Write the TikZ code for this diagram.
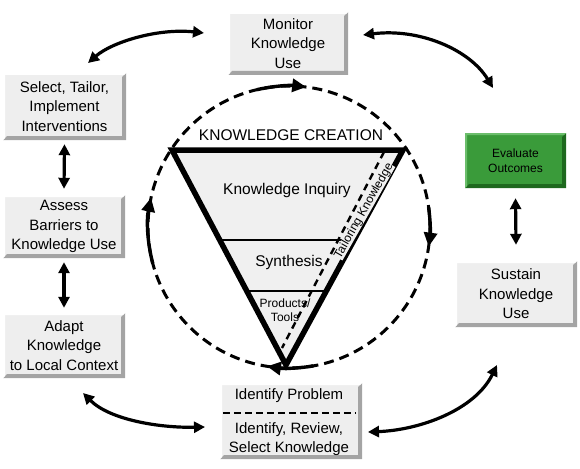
\documentclass[tikz,border=0pt]{standalone}
\usepackage{fontspec}
\setmainfont{Liberation Sans}
\usetikzlibrary{arrows.meta,calc}
\definecolor{boxfill}{HTML}{EEEEEE}
\definecolor{bevdark}{HTML}{A4A4A4}
\definecolor{grfill}{HTML}{3A9B3A}
\definecolor{grdark}{HTML}{1E681E}
\definecolor{grlight}{HTML}{6CBE6C}
\definecolor{trifill}{HTML}{F0F0F0}
\tikzset{
  bevel/.style 2 args={path picture={
    \fill[#1] (path picture bounding box.north east) -- (path picture bounding box.south east)
      -- (path picture bounding box.south west) -- ([shift={(4pt,4pt)}]path picture bounding box.south west)
      -- ([shift={(-4pt,4pt)}]path picture bounding box.south east)
      -- ([shift={(-4pt,-4pt)}]path picture bounding box.north east) -- cycle;
    \fill[#2] (path picture bounding box.south west) -- (path picture bounding box.north west)
      -- (path picture bounding box.north east) -- ([shift={(-2pt,-2pt)}]path picture bounding box.north east)
      -- ([shift={(2pt,-2pt)}]path picture bounding box.north west)
      -- ([shift={(2pt,2pt)}]path picture bounding box.south west) -- cycle;}},
  boxtext/.style={inner sep=0pt, align=center, font=\fontsize{15}{19.5}\selectfont},
  greybox/.style={boxtext, fill=boxfill, bevel={bevdark}{white}},
  greenbox/.style={fill=grfill, bevel={grdark}{grlight}, inner sep=0pt, align=center,
    font=\fontsize{12}{15}\selectfont},
  conn/.style={line width=3.2pt, arrows={Triangle[length=11pt,width=11pt]-Triangle[length=11pt,width=11pt]}},
  cyc/.style={line width=3.4pt, -{Triangle[length=14pt,width=13pt]}},
  circdash/.style={line width=3pt, dash pattern=on 10pt off 6pt},
  taildash/.style={line width=2.4pt, dash pattern=on 7pt off 5pt},
  trilabel/.style={font=\fontsize{15.5}{18}\selectfont, align=center},
  smalllabel/.style={font=\fontsize{12}{14}\selectfont, align=center}
}
\begin{document}
\begin{tikzpicture}[x=1pt,y=-1pt]
\useasboundingbox (0,0) rectangle (580,468);

% boxes
\node[greybox, minimum width=120pt, minimum height=63pt] (monitor) at (288,43.5) {Monitor\\Knowledge\\Use};
\node[greybox, minimum width=123pt, minimum height=67pt] (select) at (64.5,106.5) {Select, Tailor,\\Implement\\Interventions};
\node[greybox, minimum width=122pt, minimum height=63pt] (assess) at (64,226.5) {Assess\\Barriers to\\Knowledge Use};
\node[greybox, minimum width=122pt, minimum height=65pt] (adapt) at (64,345.5) {Adapt\\Knowledge\\to Local Context};
\node[greybox, minimum width=142pt, minimum height=76pt] (ident) at (291,421) {};
\node[boxtext] (identp) at (289,396) {Identify Problem};
\node[boxtext] (identr) at (289,439) {Identify, Review,\\Select Knowledge};
\draw[line width=1.6pt, dash pattern=on 7pt off 4pt] ($(ident.west)+(3,-8)$) -- ($(ident.east)+(-7,-8)$);
\node[greenbox, minimum width=101pt, minimum height=55pt] (evaluate) at (515.5,160.5) {Evaluate\\Outcomes};
\node[greybox, minimum width=122pt, minimum height=66pt] (sustain) at (516,294) {Sustain\\Knowledge\\Use};

% triangle
\coordinate (tl) at (172,150);
\coordinate (tr) at (403,150);
\coordinate (bt) at (286,365);
\fill[trifill] (tl) -- (tr) -- (bt) -- cycle;
\draw[line width=1.5pt] ($(tl)!0.4186!(bt)$) -- ($(tr)!0.4186!(bt)$);
\draw[line width=1.5pt] ($(tl)!0.6558!(bt)$) -- ($(tr)!0.6558!(bt)$);

% dashed cycle
\coordinate (c) at (289,227);
\draw[circdash] (c) circle[radius=141];
\coordinate (ta) at (384,152);
\coordinate (tb) at (282,348);
\draw[taildash] (ta) -- (tb);

\draw[line width=5.5pt, line join=miter] (tl) -- (tr) -- (bt) -- cycle;

\node[trilabel] (kc) at (291,135) {KNOWLEDGE CREATION};
\node[trilabel] (ki) at (287,190) {Knowledge Inquiry};
\node[trilabel] (syn) at (289,262) {Synthesis};
\node[smalllabel] (prod) at (285,310) {Products/\\Tools};
\node[smalllabel, fill=trifill, inner sep=0pt, rotate=60.5] (tail) at (364,211) {Tailoring Knowledge};

% cycle arrows
\draw[cyc] (c) ++(257:141) arc[start angle=257, end angle=277, radius=141];
\draw[cyc] (c) ++(-8:141) arc[start angle=-8, end angle=8, radius=141];
\draw[cyc] (c) ++(80:141) arc[start angle=80, end angle=99, radius=141];
\draw[cyc] (c) ++(165:141) arc[start angle=165, end angle=192, radius=141];

% connectors between boxes
\coordinate (a1s) at (88,63);   \coordinate (a1e) at (204,33);
\coordinate (a2s) at (363,35);  \coordinate (a2e) at (493,88);
\coordinate (a6s) at (83,393);  \coordinate (a6e) at (205,427);
\coordinate (a7s) at (368,432); \coordinate (a7e) at (497,365);
\draw[conn] (a1s) .. controls (112,42) and (158,28) .. (a1e);
\draw[conn] (a2s) .. controls (420,28) and (470,50) .. (a2e);
\draw[conn] (a6s) .. controls (110,420) and (160,428) .. (a6e);
\draw[conn] (a7s) .. controls (420,430) and (475,410) .. (a7e);
\draw[conn] ([yshift=-4pt]select.south) -- ([yshift=6pt]assess.north);
\draw[conn] ([yshift=-4pt]assess.south) -- ([yshift=5pt]adapt.north);
\draw[conn] ([yshift=-10pt]evaluate.south) -- ([yshift=16pt]sustain.north);
\end{tikzpicture}
\end{document}
